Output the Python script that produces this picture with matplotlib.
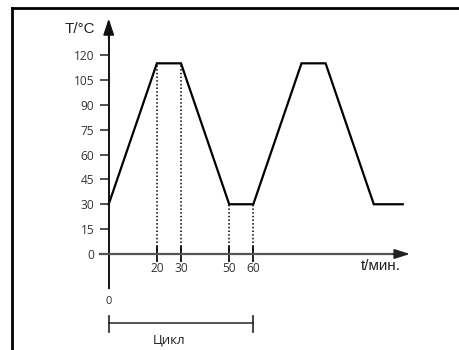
import matplotlib
matplotlib.use("Agg")
import matplotlib.pyplot as plt
from matplotlib.lines import Line2D

# Data: temperature cycle profile
time_min = [0, 20, 30, 50, 60, 80, 90, 110, 122]
temp_c = [30, 115, 115, 30, 30, 115, 115, 30, 30]

y_ticks = [0, 15, 30, 45, 60, 75, 90, 105, 120]
x_ticks = [20, 30, 50, 60]
x_tick_labels = ["20", "30", "50", "60"]
guide_x = [20, 30, 50, 60]
guide_top = [115, 115, 30, 30]
cycle_start, cycle_end = 0, 60

W, H, DPI = 459, 350, 100
fig = plt.figure(figsize=(W / DPI, H / DPI), dpi=DPI)
ax = fig.add_axes([0, 0, 1, 1])

# pixel -> data mapping
px_per_x = 2.41
px_per_y = 1.658
x0_px, y0_px = 108.7, 254.0
ax.set_xlim(-x0_px / px_per_x, (W - x0_px) / px_per_x)
ax.set_ylim(-(H - y0_px) / px_per_y, y0_px / px_per_y)

ax.patch.set_alpha(0)
for s in ("top", "right"):
    ax.spines[s].set_visible(False)
ax.spines["left"].set_position(("data", 0))
ax.spines["bottom"].set_position(("data", 0))
ax.spines["left"].set_bounds(-20.5, 133)
ax.spines["bottom"].set_bounds(-3.5, 120)
ax.spines["left"].set_color("#111111")
ax.spines["left"].set_linewidth(1.4)
ax.spines["bottom"].set_color("#555555")
ax.spines["bottom"].set_linewidth(1.6)

tick_font = dict(family="Open Sans", size=8.6)
ax.set_yticks(y_ticks)
ax.set_yticklabels([str(v) for v in y_ticks], **tick_font, color="#333333")
ax.tick_params(axis="y", direction="out", length=6.5, width=1.1, color="#222222", pad=4)
ax.set_xticks(x_ticks)
ax.set_xticklabels(x_tick_labels, **tick_font, color="#333333")
ax.tick_params(axis="x", direction="inout", length=12, width=1.4, color="#222222", pad=0)

# arrows
ax.annotate("", xy=(0, 142), xytext=(0, 130),
            arrowprops=dict(arrowstyle="-|>,head_length=0.9,head_width=0.3",
                            mutation_scale=11, color="#111111", lw=1.2,
                            shrinkA=0, shrinkB=0))
ax.annotate("", xy=(125, 0), xytext=(118, 0),
            arrowprops=dict(arrowstyle="-|>,head_length=0.85,head_width=0.27",
                            mutation_scale=11, color="#222222", lw=1.2,
                            shrinkA=0, shrinkB=0))

# guide lines
for gx, gt in zip(guide_x, guide_top):
    ax.plot([gx, gx], [0, gt], color="black", lw=1.1, linestyle=(0, (1, 1.4)))

# profile
ax.plot(time_min, temp_c, color="black", lw=1.6, solid_joinstyle="miter")

# axis labels
ax.text(-5.5, 136, "T/°C", ha="right", va="center",
        family="Liberation Sans", fontsize=11, color="#222222")
ax.text(113, -7.5, "t/мин.", ha="center", va="center",
        family="Liberation Sans", fontsize=11, color="#222222")
ax.text(0, -28.5, "0", ha="center", va="center", family="Open Sans",
        fontsize=8, color="#333333")

# cycle bracket
ax.plot([cycle_start, cycle_end], [-41.6, -41.6], color="#555555", lw=1.4)
for cx in (cycle_start, cycle_end):
    ax.plot([cx, cx], [-37.4, -47], color="#222222", lw=1.2)
ax.text(25, -52, "Цикл", ha="center", va="center", family="Open Sans",
        fontsize=9.5, color="#222222")

# frame border
fig.add_artist(Line2D([12 / W, 12 / W], [0, 1 - 8 / H], transform=fig.transFigure,
                      color="black", lw=2))
fig.add_artist(Line2D([12 / W, 1], [1 - 8 / H, 1 - 8 / H], transform=fig.transFigure,
                      color="black", lw=2))

fig.savefig("out.png", dpi=DPI)
